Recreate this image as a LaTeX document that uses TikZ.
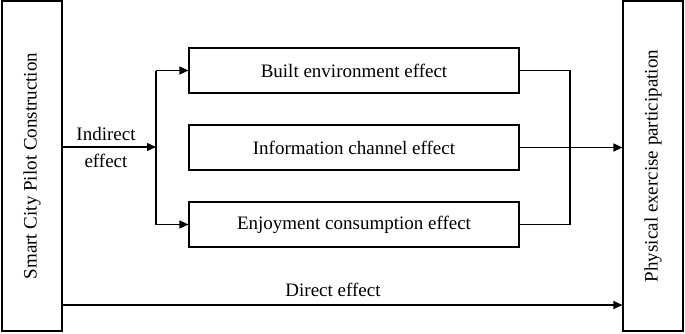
\documentclass[tikz,border=0pt]{standalone}
\usepackage{fontspec}
\setmainfont{Liberation Serif}
\usetikzlibrary{arrows.meta,positioning}

\begin{document}
\begin{tikzpicture}[x=1pt, y=-1pt,
    font=\fontsize{19}{27}\selectfont,
    block/.style={rectangle, draw, line width=1.2pt, minimum width=330pt, minimum height=45pt, text centered},
    tallblock/.style={rectangle, draw, line width=1.2pt, minimum width=330pt, minimum height=60pt, rotate=90},
    arrow/.style={-{Triangle[length=9pt,width=8pt]}, line width=1.2pt},
    link/.style={line width=1.2pt}]

\useasboundingbox (0,0) rectangle (685,333);

\node[tallblock] (scpc) at (32,166) {Smart City Pilot Construction};
\node[tallblock] (pep) at (653,166) {Physical exercise participation};
\node[block] (built) at (354,70.5) {Built environment effect};
\node[block] (info) at (354,147.5) {Information channel effect};
\node[block] (enjoy) at (354,224.5) {Enjoyment consumption effect};

\coordinate (split) at (156,147);
\coordinate (merge) at (570,147);
\coordinate (direct) at (0,305);

\draw[arrow] (scpc.south |- split) -- (split);
\draw[link] (split |- built.west) -- (split |- enjoy.west);
\draw[arrow] (split |- built.west) -- (built.west);
\draw[arrow] (split |- enjoy.west) -- (enjoy.west);

\draw[link] (built.east) -- (merge |- built.east) -- (merge |- enjoy.east) -- (enjoy.east);
\draw[arrow] (info.east) -- (info.east -| pep.north);

\draw[arrow] (scpc.south |- direct) -- (pep.north |- direct);

\node[align=center] (indirect) at (106,147) {Indirect\\effect};
\node (directlbl) at (333,290) {Direct effect};

\end{tikzpicture}
\end{document}
